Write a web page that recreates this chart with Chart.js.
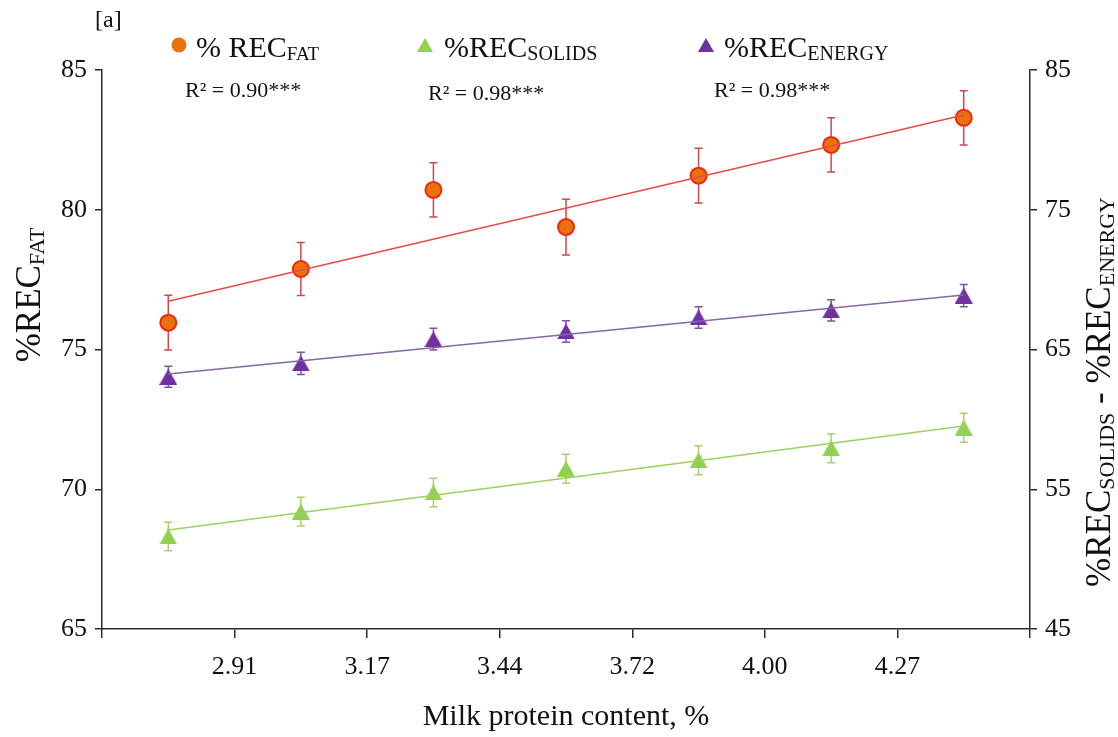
<!DOCTYPE html>
<html>
<head>
<meta charset="utf-8">
<title>Milk protein content vs recovery</title>
<script src="https://cdn.jsdelivr.net/npm/chart.js@4.4.1/dist/chart.umd.min.js"></script>
<style>
  html, body { margin: 0; padding: 0; background: #fff; }
  #chart { display: block; }
</style>
</head>
<body>
<canvas id="chart" width="1118" height="737"></canvas>
<script>
// protein classes sit between the labelled boundaries
var groupPositions = [0.5, 1.5, 2.5, 3.5, 4.5, 5.5, 6.5];
var xTickLabels = ['2.91', '3.17', '3.44', '3.72', '4.00', '4.27'];

var fatValues = [75.96, 77.88, 80.71, 79.38, 81.22, 82.32, 83.29];
var fatErrors = [0.98, 0.95, 0.97, 1.0, 0.98, 0.97, 0.97];
var fatTrend = [76.73, 83.39];

var solidsValues = [51.62, 53.40, 54.77, 56.47, 57.08, 57.93, 59.40];
var solidsErrors = [1.02, 1.03, 1.02, 1.04, 1.04, 1.03, 1.04];
var solidsTrend = [52.08, 59.53];

var energyValues = [63.05, 64.01, 65.74, 66.29, 67.29, 67.80, 68.86];
var energyErrors = [0.76, 0.79, 0.78, 0.77, 0.77, 0.76, 0.80];
var energyTrend = [63.25, 68.90];

var leftTicks = [65, 70, 75, 80, 85];
var rightTicks = [45, 55, 65, 75, 85];

var SERIF = "'Liberation Serif', 'Times New Roman', serif";
var AXIS = '#2b2b2b';

function points(values) {
  return values.map(function (v, i) {
    return { x: groupPositions[i], y: v };
  });
}

function trend(ends) {
  return [
    { x: groupPositions[0], y: ends[0] },
    { x: groupPositions[groupPositions.length - 1], y: ends[1] }
  ];
}

// excel-like triangle, centred on its box rather than its circumcentre
function makeTriangle(color, w, h) {
  var c = document.createElement('canvas');
  c.width = w;
  c.height = h;
  var g = c.getContext('2d');
  g.fillStyle = color;
  g.beginPath();
  g.moveTo(w / 2, 0);
  g.lineTo(w, h);
  g.lineTo(0, h);
  g.closePath();
  g.fill();
  return c;
}

function drawRich(ctx, parts, x, y, align) {
  var total = 0;
  parts.forEach(function (p) {
    ctx.font = p.size + 'px ' + SERIF;
    total += ctx.measureText(p.text).width;
  });
  var cx = align === 'center' ? x - total / 2 : x;
  parts.forEach(function (p) {
    ctx.font = p.size + 'px ' + SERIF;
    ctx.fillText(p.text, cx, y + (p.dy || 0));
    cx += ctx.measureText(p.text).width;
  });
}

var errorBarPlugin = {
  id: 'errorBars',
  beforeDatasetsDraw: function (chart) {
    var ctx = chart.ctx;
    chart.data.datasets.forEach(function (ds, i) {
      if (!ds.errors) {
        return;
      }
      var meta = chart.getDatasetMeta(i);
      var scale = chart.scales[ds.yAxisID];
      ctx.save();
      ctx.strokeStyle = ds.errorColor;
      ctx.lineWidth = 1.5;
      meta.data.forEach(function (pt, j) {
        var v = ds.data[j].y;
        var e = ds.errors[j];
        var top = scale.getPixelForValue(v + e);
        var bot = scale.getPixelForValue(v - e);
        ctx.beginPath();
        ctx.moveTo(pt.x, top);
        ctx.lineTo(pt.x, bot);
        ctx.moveTo(pt.x - 4, top);
        ctx.lineTo(pt.x + 4, top);
        ctx.moveTo(pt.x - 4, bot);
        ctx.lineTo(pt.x + 4, bot);
        ctx.stroke();
      });
      ctx.restore();
    });
  }
};

var textPlugin = {
  id: 'texts',
  afterDraw: function (chart) {
    var ctx = chart.ctx;
    ctx.save();
    ctx.fillStyle = '#111';
    ctx.textBaseline = 'alphabetic';

    drawRich(ctx, [{ text: '[a]', size: 24 }], 95, 27, 'left');

    // legend
    ctx.fillStyle = '#E8730E';
    ctx.beginPath();
    ctx.arc(179, 45, 7.5, 0, Math.PI * 2);
    ctx.fill();
    ctx.drawImage(makeTriangle('#92D050', 16, 14), 417, 38);
    ctx.drawImage(makeTriangle('#7030A0', 16, 14), 698, 38);

    ctx.fillStyle = '#111';
    drawRich(ctx, [{ text: '% REC', size: 30 }, { text: 'FAT', size: 19, dy: 3 }], 196, 57, 'left');
    drawRich(ctx, [{ text: '%REC', size: 30 }, { text: 'SOLIDS', size: 20, dy: 3 }], 444, 57, 'left');
    drawRich(ctx, [{ text: '%REC', size: 30 }, { text: 'ENERGY', size: 20, dy: 3 }], 724, 57, 'left');

    drawRich(ctx, [{ text: 'R\u00b2 = 0.90***', size: 22 }], 185, 97, 'left');
    drawRich(ctx, [{ text: 'R\u00b2 = 0.98***', size: 22 }], 428, 100, 'left');
    drawRich(ctx, [{ text: 'R\u00b2 = 0.98***', size: 22 }], 714, 97, 'left');

    // axis titles
    drawRich(ctx, [{ text: 'Milk protein content, %', size: 30 }], 566, 725, 'center');

    ctx.save();
    ctx.translate(40, 295);
    ctx.rotate(-Math.PI / 2);
    drawRich(ctx, [{ text: '%REC', size: 35 }, { text: 'FAT', size: 22, dy: 4 }], 0, 0, 'center');
    ctx.restore();

    ctx.save();
    ctx.translate(1110, 392);
    ctx.rotate(-Math.PI / 2);
    drawRich(ctx, [
      { text: '%REC', size: 35 }, { text: 'SOLIDS', size: 22, dy: 4 },
      { text: ' - %REC', size: 35 }, { text: 'ENERGY', size: 22, dy: 4 }
    ], 0, 0, 'center');
    ctx.restore();

    ctx.restore();
  }
};

var tickFont = { family: SERIF, size: 26 };

new Chart(document.getElementById('chart'), {
  type: 'scatter',
  data: {
    datasets: [
      {
        label: 'FAT trend',
        data: trend(fatTrend),
        yAxisID: 'y',
        showLine: true,
        borderColor: '#E84A4A',
        borderWidth: 1.5,
        pointRadius: 0,
        order: 0
      },
      {
        label: 'SOLIDS trend',
        data: trend(solidsTrend),
        yAxisID: 'y2',
        showLine: true,
        borderColor: '#9BD25E',
        borderWidth: 1.5,
        pointRadius: 0,
        order: 0
      },
      {
        label: 'ENERGY trend',
        data: trend(energyTrend),
        yAxisID: 'y2',
        showLine: true,
        borderColor: '#8466A6',
        borderWidth: 1.5,
        pointRadius: 0,
        order: 0
      },
      {
        label: '% REC FAT',
        data: points(fatValues),
        errors: fatErrors,
        errorColor: '#CC4A4A',
        yAxisID: 'y',
        pointStyle: 'circle',
        pointRadius: 8,
        pointHoverRadius: 8,
        backgroundColor: '#E8730E',
        borderColor: '#F2260F',
        pointBorderWidth: 2,
        order: 1
      },
      {
        label: '%REC SOLIDS',
        data: points(solidsValues),
        errors: solidsErrors,
        errorColor: '#A2D46E',
        yAxisID: 'y2',
        pointStyle: makeTriangle('#92D050', 18, 16),
        order: 1
      },
      {
        label: '%REC ENERGY',
        data: points(energyValues),
        errors: energyErrors,
        errorColor: '#7E52A8',
        yAxisID: 'y2',
        pointStyle: makeTriangle('#7030A0', 18, 16),
        order: 1
      }
    ]
  },
  options: {
    responsive: false,
    animation: false,
    devicePixelRatio: 1,
    layout: { padding: { top: 70, left: 0, right: 0, bottom: 0 } },
    plugins: {
      legend: { display: false },
      tooltip: { enabled: false }
    },
    scales: {
      x: {
        type: 'linear',
        position: 'bottom',
        min: 0,
        max: 7,
        afterFit: function (s) { s.height = 108; },
        afterBuildTicks: function (s) {
          s.ticks = [0, 1, 2, 3, 4, 5, 6, 7].map(function (v) { return { value: v }; });
        },
        ticks: {
          font: tickFont,
          color: '#111',
          padding: 14,
          maxRotation: 0,
          autoSkip: false,
          callback: function (v) {
            return v >= 1 && v <= xTickLabels.length ? xTickLabels[v - 1] : '';
          }
        },
        grid: { drawOnChartArea: false, tickLength: 9, color: AXIS, lineWidth: 1.5 },
        border: { color: AXIS, width: 1.5 }
      },
      y: {
        position: 'left',
        min: 65,
        max: 85,
        afterFit: function (s) { s.width = 102; },
        afterBuildTicks: function (s) {
          s.ticks = leftTicks.map(function (v) { return { value: v }; });
        },
        ticks: { font: tickFont, color: '#111', padding: 8 },
        grid: { drawOnChartArea: false, tickLength: 7, color: AXIS, lineWidth: 1.5 },
        border: { color: AXIS, width: 1.5 }
      },
      y2: {
        position: 'right',
        min: 45,
        max: 85,
        afterFit: function (s) { s.width = 88; },
        afterBuildTicks: function (s) {
          s.ticks = rightTicks.map(function (v) { return { value: v }; });
        },
        ticks: { font: tickFont, color: '#111', padding: 8 },
        grid: { drawOnChartArea: false, tickLength: 7, color: AXIS, lineWidth: 1.5 },
        border: { color: AXIS, width: 1.5 }
      }
    }
  },
  plugins: [errorBarPlugin, textPlugin]
});
</script>
</body>
</html>
